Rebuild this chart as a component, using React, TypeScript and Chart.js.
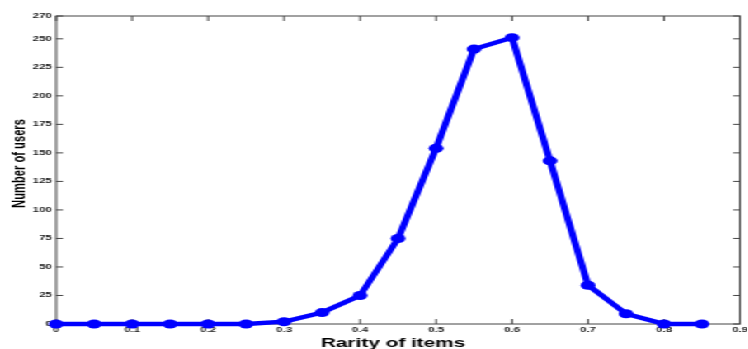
import React, { useEffect, useRef } from "react";
import { Chart, registerables } from "chart.js";

Chart.register(...registerables);

// Distribution of users over item rarity
const rarity = [0, 0.05, 0.1, 0.15, 0.2, 0.25, 0.3, 0.35, 0.4, 0.45, 0.5, 0.55, 0.6, 0.65, 0.7, 0.75, 0.8, 0.85];
const users = [0, 0, 0, 0, 0, 0, 2, 10, 25, 75, 154, 241, 251, 143, 34, 9, 0, 0];

const xTicks = [0, 0.1, 0.2, 0.3, 0.4, 0.5, 0.6, 0.7, 0.8, 0.9];
const yTicks = [0, 25, 50, 75, 100, 125, 150, 175, 200, 225, 250, 270];

const X_TITLE = "Rarity of items";
const Y_TITLE = "Number of users";

// The figure is rendered narrow and widened horizontally, giving the wide glyphs and oval markers
const STRETCH = 1.65;
const CANVAS_W = 453;
const CANVAS_H = 349;

const AXIS_COLOR = "#454545";
const TEXT_COLOR = "#1c1c1c";
const FONT = '"Liberation Sans", Arial, Helvetica, sans-serif';

const fmtX = (v: number) => (v === 0 ? "0" : v.toFixed(1));

// Boxed axes with inward ticks, tick labels and axis titles
const boxAxes = {
  id: "boxAxes",
  beforeDatasetsDraw(chart: any) {
    const { ctx, chartArea: a, scales } = chart;
    const xs = scales.x;
    const ys = scales.y;
    ctx.save();
    ctx.strokeStyle = AXIS_COLOR;
    ctx.lineWidth = 1;
    ctx.strokeRect(a.left, a.top, a.right - a.left, a.bottom - a.top);

    ctx.beginPath();
    for (const v of xTicks) {
      const px = xs.getPixelForValue(v);
      ctx.moveTo(px, a.bottom);
      ctx.lineTo(px, a.bottom - 5);
      ctx.moveTo(px, a.top);
      ctx.lineTo(px, a.top + 5);
    }
    for (const v of yTicks) {
      const py = ys.getPixelForValue(v);
      ctx.moveTo(a.left, py);
      ctx.lineTo(a.left + 4.2, py);
      ctx.moveTo(a.right, py);
      ctx.lineTo(a.right - 4.2, py);
    }
    ctx.stroke();

    ctx.fillStyle = TEXT_COLOR;
    ctx.font = `bold 7px ${FONT}`;
    ctx.textBaseline = "middle";
    ctx.textAlign = "center";
    for (const v of xTicks) {
      ctx.fillText(fmtX(v), xs.getPixelForValue(v), a.bottom + 6.5);
    }
    ctx.textAlign = "right";
    for (const v of yTicks) {
      ctx.fillText(String(v), a.left - 2.5, ys.getPixelForValue(v));
    }

    ctx.fillStyle = "#000";
    ctx.font = `bold 12.6px ${FONT}`;
    ctx.textAlign = "center";
    ctx.textBaseline = "alphabetic";
    ctx.fillText(X_TITLE, (a.left + a.right) / 2 - 3, 346.5);

    ctx.font = `bold 11.2px ${FONT}`;
    ctx.translate(15.2, 163.5);
    ctx.rotate(-Math.PI / 2);
    ctx.fillText(Y_TITLE, 0, 0);
    ctx.restore();
  },
};

export default function App() {
  const canvasRef = useRef<HTMLCanvasElement | null>(null);

  useEffect(() => {
    document.body.style.margin = "0";
    document.body.style.overflow = "hidden";
    const canvas = canvasRef.current;
    if (!canvas) return;
    const chart = new Chart(canvas, {
      type: "line",
      data: {
        datasets: [
          {
            data: rarity.map((x, i) => ({ x, y: users[i] })),
            borderColor: "#0000ff",
            backgroundColor: "#0000ff",
            borderWidth: 4.3,
            borderJoinStyle: "round",
            borderCapStyle: "round",
            pointStyle: "circle",
            pointRadius: 4.5,
            pointBackgroundColor: "#0000ff",
            pointBorderColor: "#0000ff",
            pointBorderWidth: 0,
            tension: 0,
            fill: false,
            clip: false,
          } as any,
        ],
      },
      options: {
        responsive: false,
        animation: false,
        events: [],
        devicePixelRatio: 1,
        layout: { padding: { left: 34, top: 16, right: 3, bottom: 25 } },
        plugins: { legend: { display: false }, tooltip: { enabled: false } },
        scales: {
          x: { type: "linear", min: 0, max: 0.9, display: false },
          y: { type: "linear", min: 0, max: 270, display: false },
        },
      },
      plugins: [boxAxes],
    });
    return () => chart.destroy();
  }, []);

  return (
    <div
      style={{
        width: CANVAS_W,
        height: CANVAS_H,
        transform: `scaleX(${STRETCH})`,
        transformOrigin: "0 0",
        background: "#fff",
      }}
    >
      <canvas ref={canvasRef} width={CANVAS_W} height={CANVAS_H} style={{ display: "block" }} />
    </div>
  );
}
